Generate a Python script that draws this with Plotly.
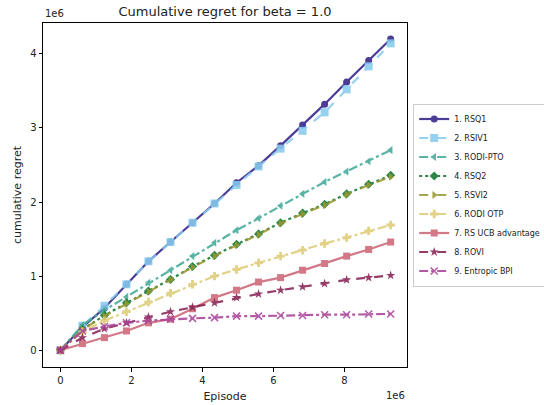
import plotly.graph_objects as go

# x in units of 1e6 episodes, y in units of 1e6 regret
episodes = [0, 0.62, 1.24, 1.86, 2.48, 3.10, 3.72, 4.34, 4.96, 5.58, 6.20, 6.82, 7.44, 8.06, 8.68, 9.30]

rsq1 = [0, 0.31, 0.57, 0.89, 1.20, 1.46, 1.72, 1.98, 2.26, 2.49, 2.76, 3.04, 3.32, 3.62, 3.91, 4.20]
rsiv1 = [0, 0.33, 0.60, 0.89, 1.20, 1.46, 1.72, 1.98, 2.23, 2.48, 2.72, 2.96, 3.21, 3.52, 3.83, 4.14]
rodi_pto = [0, 0.34, 0.54, 0.72, 0.91, 1.08, 1.27, 1.45, 1.62, 1.78, 1.95, 2.11, 2.27, 2.41, 2.55, 2.70]
rsq2 = [0, 0.28, 0.47, 0.64, 0.80, 0.955, 1.13, 1.28, 1.43, 1.57, 1.72, 1.85, 1.97, 2.11, 2.24, 2.36]
rsvi2 = [0, 0.28, 0.46, 0.63, 0.79, 0.95, 1.12, 1.27, 1.42, 1.56, 1.71, 1.84, 1.96, 2.10, 2.23, 2.34]
rodi_otp = [0, 0.25, 0.40, 0.52, 0.65, 0.77, 0.89, 1.00, 1.09, 1.18, 1.27, 1.35, 1.44, 1.52, 1.61, 1.69]
rs_ucb = [0, 0.09, 0.17, 0.26, 0.37, 0.42, 0.56, 0.71, 0.81, 0.92, 0.98, 1.08, 1.17, 1.27, 1.36, 1.46]
rovi = [0, 0.17, 0.29, 0.37, 0.45, 0.52, 0.58, 0.64, 0.71, 0.76, 0.81, 0.855, 0.90, 0.95, 0.98, 1.01]
entropic = [0, 0.26, 0.32, 0.37, 0.40, 0.42, 0.43, 0.44, 0.46, 0.46, 0.47, 0.47, 0.48, 0.48, 0.49, 0.49]

names = ["1. RSQ1", "2. RSIV1", "3. RODI-PTO", "4. RSQ2", "5. RSVI2",
         "6. RODI OTP", "7. RS UCB advantage", "8. ROVI", "9. Entropic BPI"]
series = [rsq1, rsiv1, rodi_pto, rsq2, rsvi2, rodi_otp, rs_ucb, rovi, entropic]
colors = ["#332288", "#88CCEE", "#44AA99", "#117733", "#999933",
          "#DDCC77", "#CC6677", "#882255", "#AA4499"]
symbols = ["circle", "square", "triangle-left", "diamond", "triangle-right",
           "cross", "square", "star", "x-thin"]
sizes = [7, 8, 7, 7, 7, 7, 7, 7, 7]
dashes = ["solid", "dash", "dashdot", "dot", "dash", "dashdot", "solid", "dash", "dashdot"]

xticks = [0, 2, 4, 6, 8]
yticks = [0, 1, 2, 3, 4]

fig = go.Figure()
for name, ys, c, s, sz, d in zip(names, series, colors, symbols, sizes, dashes):
    fig.add_trace(go.Scatter(
        x=episodes, y=ys, name=name, mode="lines+markers",
        line=dict(color=c, width=2.2, dash=d),
        marker=dict(color=c, symbol=s, size=sz,
                    line=dict(color=c, width=1.5 if s == "x-thin" else 0)),
        opacity=0.88,
    ))

axis_common = dict(
    showgrid=False, zeroline=False, showline=True, linecolor="black", linewidth=1,
    mirror=True, ticks="outside", ticklen=3.5, tickcolor="black", tickwidth=1,
    tickfont=dict(size=10, color="#222", family="DejaVu Sans"),
)
fig.update_layout(
    width=544, height=405,
    margin=dict(l=43, r=137, t=23, b=38, autoexpand=False),
    paper_bgcolor="white", plot_bgcolor="white",
    font=dict(family="DejaVu Sans", color="#222"),
    title=dict(text="Cumulative regret for beta = 1.0", x=0.5, xref="paper",
               xanchor="center", y=0.972, yanchor="middle",
               font=dict(size=13, color="#222")),
    xaxis=dict(range=[-0.49, 9.76], tickvals=xticks, ticktext=[str(v) for v in xticks],
               title=dict(text="Episode", font=dict(size=11), standoff=7), **axis_common),
    yaxis=dict(range=[-0.226, 4.415], tickvals=yticks, ticktext=[str(v) for v in yticks],
               title=dict(text="cumulative regret", font=dict(size=11), standoff=6), **axis_common),
    legend=dict(x=1.017, xanchor="left", y=0.5, yanchor="middle",
                font=dict(size=8, color="#222"), bgcolor="white",
                bordercolor="#cccccc", borderwidth=1, itemwidth=30,
                tracegroupgap=0),
    showlegend=True,
)
fig.add_annotation(text="1e6", xref="paper", yref="paper", x=0, y=1.005,
                   xanchor="left", yanchor="bottom", showarrow=False,
                   font=dict(size=10, color="#222"))
fig.add_annotation(text="1e6", xref="paper", yref="paper", x=1, y=-0.062,
                   xanchor="right", yanchor="top", showarrow=False,
                   font=dict(size=10, color="#222"))
fig.write_html("out.html")
